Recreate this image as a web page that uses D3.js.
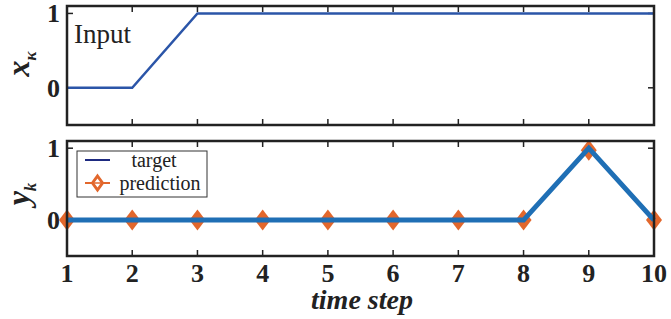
<!DOCTYPE html>
<html>
<head>
<meta charset="utf-8">
<script src="https://cdn.jsdelivr.net/npm/d3@7"></script>
<style>
  body { margin: 0; background: white; }
</style>
</head>
<body>
<div id="plot-container"></div>
<script>
// time steps and series
const steps = [1, 2, 3, 4, 5, 6, 7, 8, 9, 10];
const inputX = [0, 0, 1, 1, 1, 1, 1, 1, 1, 1];
const target = [0, 0, 0, 0, 0, 0, 0, 0, 1, 0];
const prediction = [0, 0, 0, 0, 0, 0, 0, 0, 0.97, 0];
const yTicks = [0, 1];

const W = 671, H = 319;
const left = 67, right = 654;
const serif = "'Liberation Serif', 'Times New Roman', Times, serif";

const svg = d3.select("#plot-container")
    .append("svg")
    .attr("width", W)
    .attr("height", H)
    .style("font-family", serif);

const x = d3.scaleLinear().domain([1, 10]).range([left, right]);

// wide diamond like matlab's marker
function diamondPath(w, h) {
    return {
        draw(ctx) {
            ctx.moveTo(0, -h / 2);
            ctx.lineTo(w / 2, 0);
            ctx.lineTo(0, h / 2);
            ctx.lineTo(-w / 2, 0);
            ctx.closePath();
        }
    };
}

const panels = [
    {top: 6, bottom: 125, label: "x", sub: "κ", cy: 64},
    {top: 141, bottom: 256, label: "y", sub: "k", cy: 194}
];

panels.forEach((p, i) => {
    const y = d3.scaleLinear().domain([-0.5, 1.1]).range([p.bottom, p.top]);
    p.y = y;
    const g = svg.append("g");

    // ticks pointing inward on all four sides
    steps.forEach(s => {
        g.append("line").attr("x1", x(s)).attr("x2", x(s))
            .attr("y1", p.bottom).attr("y2", p.bottom - 6)
            .attr("stroke", "#222").attr("stroke-width", 1.5);
        g.append("line").attr("x1", x(s)).attr("x2", x(s))
            .attr("y1", p.top).attr("y2", p.top + 6)
            .attr("stroke", "#222").attr("stroke-width", 1.5);
    });
    yTicks.forEach(t => {
        g.append("line").attr("x1", left).attr("x2", left + 6)
            .attr("y1", y(t)).attr("y2", y(t))
            .attr("stroke", "#222").attr("stroke-width", 1.5);
        g.append("line").attr("x1", right).attr("x2", right - 6)
            .attr("y1", y(t)).attr("y2", y(t))
            .attr("stroke", "#222").attr("stroke-width", 1.5);
        g.append("text")
            .attr("x", left - 7)
            .attr("y", y(t))
            .attr("dy", "0.34em")
            .attr("text-anchor", "end")
            .style("font-size", "26px")
            .style("font-weight", "bold")
            .attr("fill", "#222")
            .text(t);
    });

    // y label, rotated
    const lab = g.append("text")
        .attr("transform", `translate(29,${p.cy}) rotate(-90)`)
        .attr("text-anchor", "middle")
        .style("font-size", "32px")
        .style("font-weight", "bold")
        .style("font-style", "italic")
        .attr("fill", "#222");
    lab.append("tspan").text(p.label);
    lab.append("tspan").attr("dy", 7).style("font-size", "17px").text(p.sub);
});

const upper = panels[0], lower = panels[1];

// Input panel
svg.append("text")
    .attr("x", 74).attr("y", 43)
    .style("font-size", "27px")
    .attr("fill", "#222")
    .text("Input");

svg.append("path")
    .datum(steps)
    .attr("fill", "none")
    .attr("stroke", "#2b55a8")
    .attr("stroke-width", 2.5)
    .attr("d", d3.line().x(d => x(d)).y((d, i) => upper.y(inputX[i])));

// prediction diamonds, then the thick target line over them
const diamond = d3.symbol().type(diamondPath(16, 21));
svg.selectAll("diamonds")
    .data(steps)
    .enter()
    .append("path")
    .attr("d", diamond)
    .attr("transform", (d, i) => `translate(${x(d)},${lower.y(prediction[i])})`)
    .attr("fill", "#e2672c");

svg.append("path")
    .datum(steps)
    .attr("fill", "none")
    .attr("stroke", "#1f6fb5")
    .attr("stroke-width", 5)
    .attr("d", d3.line().x(d => x(d)).y((d, i) => lower.y(target[i])));

// frames
panels.forEach(p => {
    svg.append("rect")
        .attr("x", left).attr("y", p.top)
        .attr("width", right - left).attr("height", p.bottom - p.top)
        .attr("fill", "none")
        .attr("stroke", "#222")
        .attr("stroke-width", 2.5);
});

// x tick labels
svg.selectAll("xlabels")
    .data(steps)
    .enter()
    .append("text")
    .attr("x", d => x(d))
    .attr("y", 282)
    .attr("text-anchor", "middle")
    .style("font-size", "26px")
    .style("font-weight", "bold")
    .attr("fill", "#222")
    .text(d => d);

svg.append("text")
    .attr("x", 362).attr("y", 309)
    .attr("text-anchor", "middle")
    .style("font-size", "28px")
    .style("font-weight", "bold")
    .style("font-style", "italic")
    .attr("fill", "#222")
    .text("time step");

// legend
const lg = svg.append("g");
lg.append("rect")
    .attr("x", 77).attr("y", 151).attr("width", 130).attr("height", 46)
    .attr("fill", "white").attr("stroke", "#333").attr("stroke-width", 1);
lg.append("line").attr("x1", 85).attr("x2", 110).attr("y1", 160).attr("y2", 160)
    .attr("stroke", "#1d2a80").attr("stroke-width", 2);
lg.append("text").attr("x", 154).attr("y", 160).attr("dy", "0.33em")
    .attr("text-anchor", "middle").style("font-size", "20px").attr("fill", "#222")
    .text("target");
lg.append("line").attr("x1", 85).attr("x2", 110).attr("y1", 183).attr("y2", 183)
    .attr("stroke", "#e2672c").attr("stroke-width", 2);
lg.append("path").attr("d", d3.symbol().type(diamondPath(10, 14)))
    .attr("transform", "translate(97.5,183)")
    .attr("fill", "white").attr("stroke", "#e2672c").attr("stroke-width", 3);
lg.append("line").attr("x1", 94).attr("x2", 101).attr("y1", 183).attr("y2", 183)
    .attr("stroke", "#e2672c").attr("stroke-width", 1.5);
lg.append("text").attr("x", 160).attr("y", 183).attr("dy", "0.33em")
    .attr("text-anchor", "middle").style("font-size", "20px").attr("fill", "#222")
    .text("prediction");
</script>
</body>
</html>
